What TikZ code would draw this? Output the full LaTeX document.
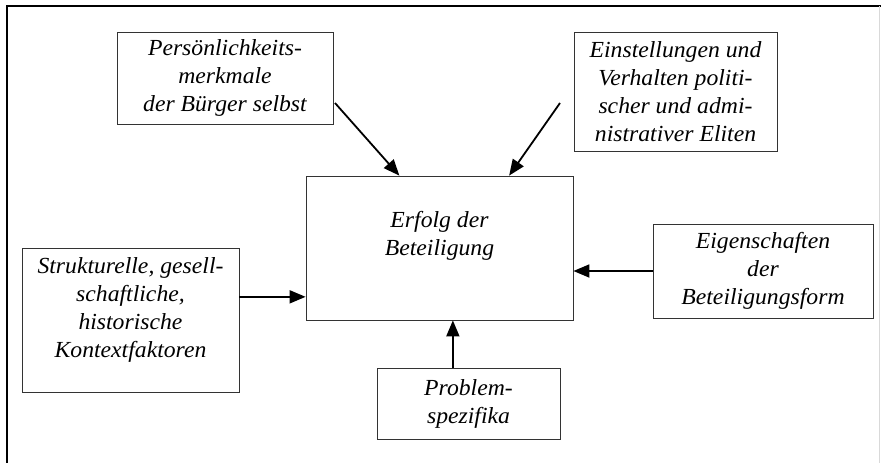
\documentclass[tikz,border=0pt]{standalone}
\usepackage{fontspec}
\setmainfont{Liberation Serif}
\newfontfamily\boxfont[FakeStretch=1.03]{Liberation Serif Italic}
\usetikzlibrary{arrows.meta,calc}

\begin{document}
\begin{tikzpicture}[x=1pt, y=-1pt,
  faktor/.style = {draw=black!80, line width=0.8pt, align=center, inner sep=0pt,
                   font=\fontsize{23}{28}\boxfont},
  txt/.style = {align=center, inner sep=0pt, font=\fontsize{23}{28}\boxfont},
  pfeil/.style = {line width=1.8pt, -{Triangle[length=16pt, width=13pt]}}]
\useasboundingbox (0,0) rectangle (881,463);
% Rahmen
\draw[line width=2pt] (7,463) -- (7,6) -- (881,6);
\draw[black!15] (879,6) -- (879,463);
% Einflussfaktoren
\node[faktor, minimum width=216, minimum height=92] (pers) at (225,78)
  {Persönlichkeits-\\merkmale\\der Bürger selbst};
\node[faktor, minimum width=203, minimum height=119] (elite) at (675.5,91.5)
  {Einstellungen und\\Verhalten politi-\\scher und admi-\\nistrativer Eliten};
\node[faktor, minimum width=267, minimum height=144] (erfolg) at (439.5,248) {};
\node[txt] (erfolgtext) at (439.5,236) {Erfolg der\\Beteiligung};
\node[faktor, minimum width=217, minimum height=144] (struk) at (130.5,320) {};
\node[txt] (struktext) at (130.5,310)
  {Strukturelle, gesell-\\schaftliche,\\historische\\Kontextfaktoren};
\node[faktor, minimum width=220, minimum height=94] (eigen) at (763,271)
  {Eigenschaften\\der\\Beteiligungsform};
\node[faktor, minimum width=183, minimum height=71] (problem) at (468.5,403.5)
  {Problem-\\spezifika};
% Pfeile
\coordinate (p1) at (335,103);
\coordinate (p2) at (560,103);
\draw[pfeil] (p1) -- ($(erfolg.north west)!0.35!(erfolg.north east)$);
\draw[pfeil] (p2) -- ($(erfolg.north west)!0.76!(erfolg.north east)$);
\coordinate (s1) at ($(struk.north east)!0.34!(struk.south east)$);
\draw[pfeil] (s1) -- (s1 -| erfolg.west);
\draw[pfeil] (eigen.west) -- (eigen.west -| erfolg.east);
\coordinate (q1) at ($(problem.north west)!0.415!(problem.north east)$);
\draw[pfeil] (q1) -- (q1 |- erfolg.south);
\end{tikzpicture}
\end{document}
